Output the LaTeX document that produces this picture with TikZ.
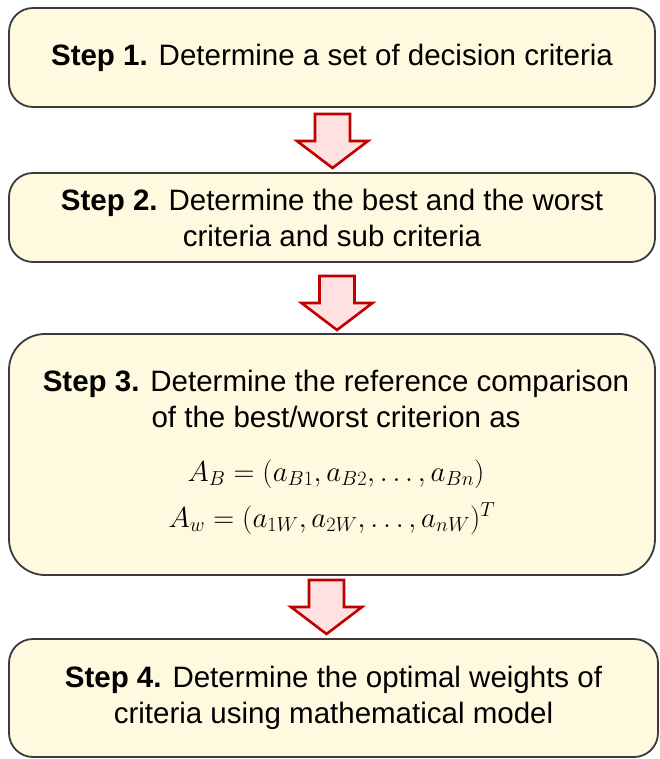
\RequirePackage{fix-cm}
\documentclass[tikz,border=0pt]{standalone}
\usepackage{fontspec}
\setmainfont{Liberation Sans}
\usetikzlibrary{calc}
\definecolor{boxfill}{HTML}{FFFADF}
\definecolor{boxline}{HTML}{3A3A3A}
\definecolor{arrfill}{HTML}{FFE1E1}
\definecolor{arrline}{HTML}{C00000}
\tikzset{
  stepbox/.style={draw=boxline, line width=1.8pt, fill=boxfill, rounded corners=24pt,
    align=center, inner sep=0pt, font=\fontsize{29.5}{36}\selectfont},
  steptext/.style={align=center, inner sep=0pt, font=\fontsize{29.5}{36}\selectfont},
  formula/.style={inner sep=0pt, font=\fontsize{29}{34}\selectfont},
  blockarr/.style={draw=arrline, fill=arrfill, line width=2.6pt, line join=miter},
}
\newcommand{\blockarrow}[1]{%
  \draw[blockarr] ($(#1)+(-17.5,-27)$) -- ($(#1)+(17.5,-27)$) -- ($(#1)+(17.5,0)$)
    -- ($(#1)+(35.5,0)$) -- ($(#1)+(0,27)$) -- ($(#1)+(-35.5,0)$) -- ($(#1)+(-17.5,0)$) -- cycle;}
\begin{document}
\begin{tikzpicture}[x=1pt,y=-1pt]
\useasboundingbox (0,0) rectangle (660,759);
\node[stepbox, minimum width=646pt, minimum height=99pt] (s1) at (332,57.5)
  {\textbf{Step 1.} Determine a set of decision criteria};
\node[stepbox, minimum width=646pt, minimum height=89pt] (s2) at (332,217.5)
  {\textbf{Step 2.} Determine the best and the worst\\criteria and sub criteria};
\node[stepbox, rounded corners=36pt, minimum width=646pt, minimum height=241pt] (s3) at (332,454.5) {};
\node[steptext, anchor=base] (t3) at (336,427)
  {\textbf{Step 3.} Determine the reference comparison\\of the best/worst criterion as};
\node[formula, anchor=base] (f1) at (336,481)
  {$A_B=(a_{B1},a_{B2},\dots,a_{Bn})$};
\node[formula, anchor=base] (f2) at (332,527)
  {$A_w=(a_{1W},a_{2W},\dots,a_{nW})^T$};
\node[stepbox, minimum width=649pt, minimum height=118pt] (s4) at (333.5,698)
  {\textbf{Step 4.} Determine the optimal weights of\\criteria using mathematical model};
\coordinate (a1) at (332.5,141);
\coordinate (a2) at (337,303);
\coordinate (a3) at (326.5,607);
\blockarrow{a1}
\blockarrow{a2}
\blockarrow{a3}
\end{tikzpicture}
\end{document}
